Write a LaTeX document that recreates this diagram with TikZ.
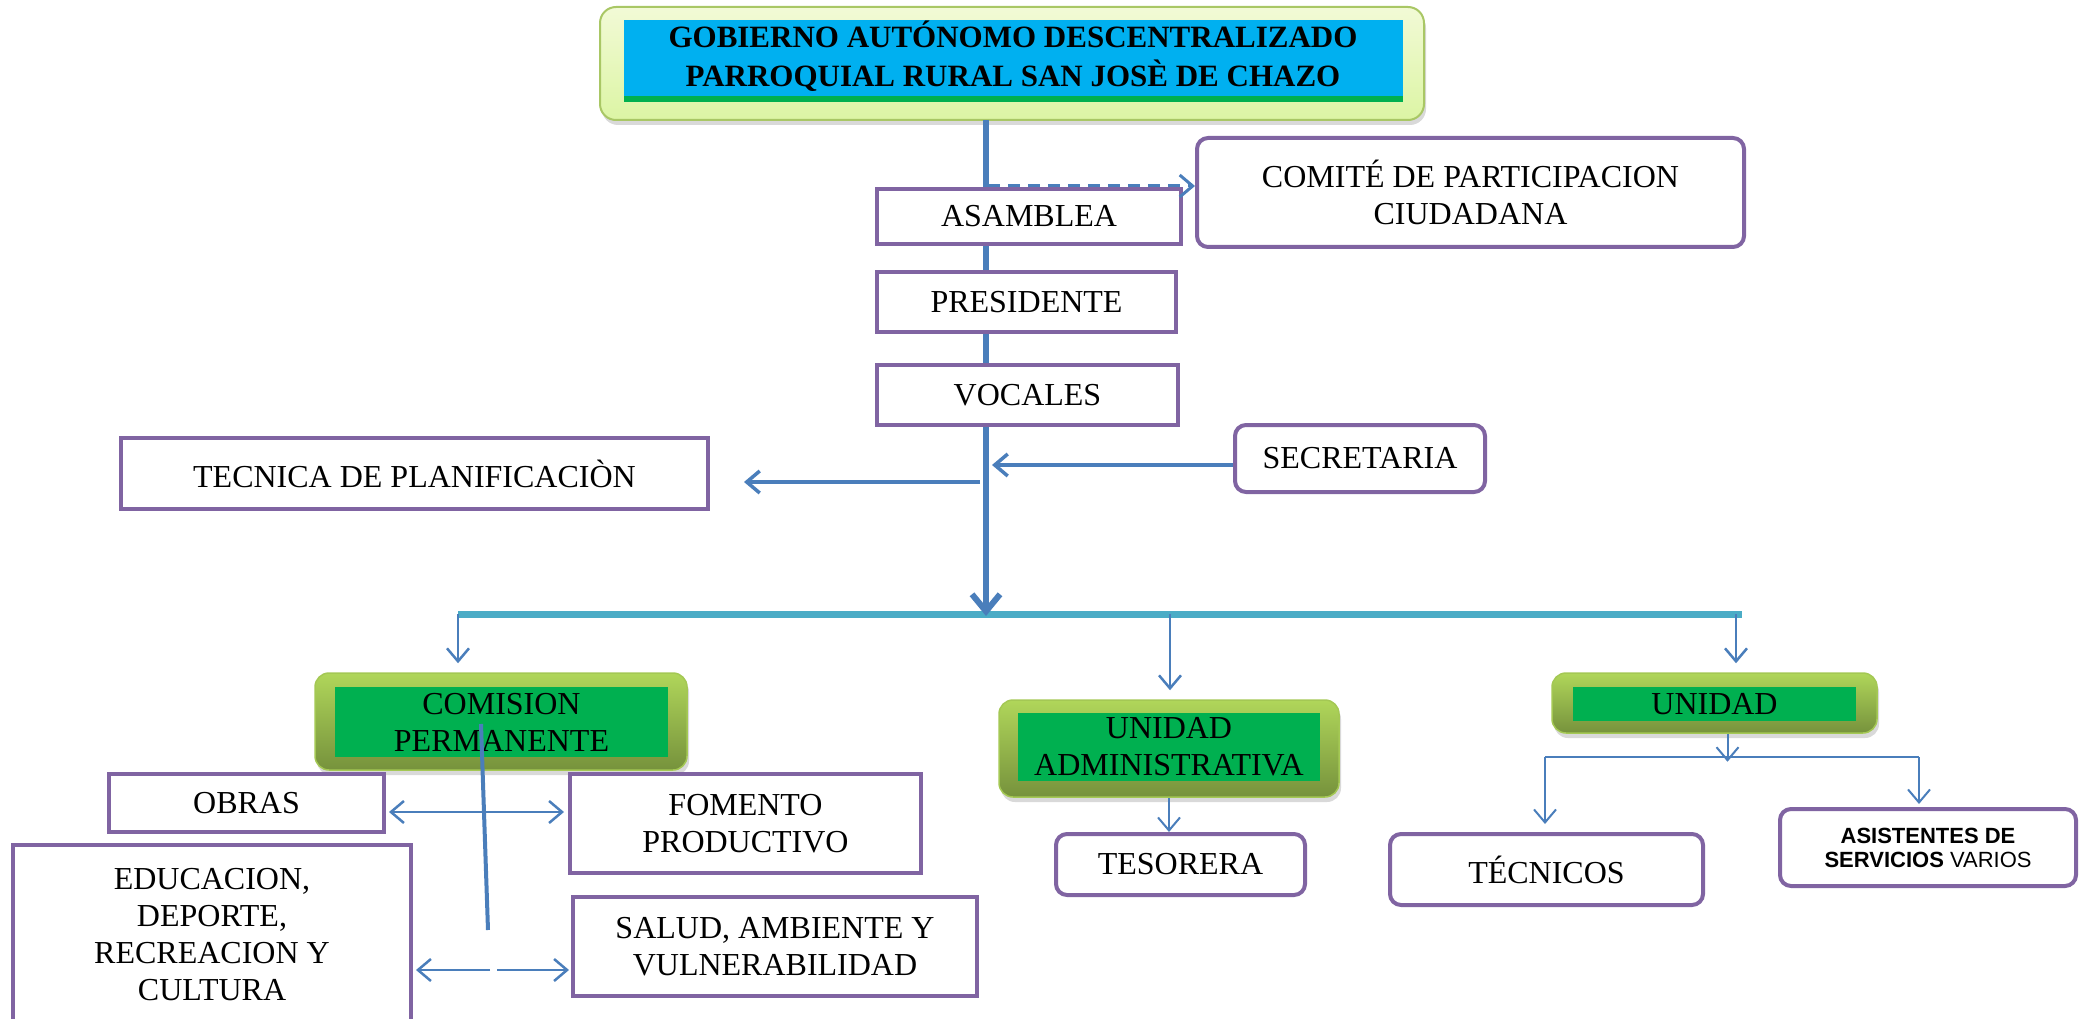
\documentclass[tikz,border=0pt]{standalone}
\usepackage{fontspec}
\setmainfont{Liberation Serif}
\newfontfamily\arialfont{Liberation Sans}
\usetikzlibrary{arrows.meta,shadows}

\definecolor{lineblue}{HTML}{4A7EBB}
\definecolor{barblue}{HTML}{4BACC6}
\definecolor{boxpurple}{HTML}{8064A2}
\definecolor{unitgreen}{HTML}{00B050}
\definecolor{olivelight}{HTML}{B0D65A}
\definecolor{olivedark}{HTML}{76923C}
\definecolor{titleblue}{HTML}{00B0F0}
\definecolor{titlepale}{HTML}{F2FAD6}
\definecolor{titlelime}{HTML}{DCF5A4}
\definecolor{titleedge}{HTML}{A9C765}

\begin{document}
\begin{tikzpicture}[x=1pt, y=-1pt, >={Straight Barb[length=13pt,width=22pt]},
  box/.style = {draw=boxpurple, line width=4, fill=white, align=center, inner sep=0, font=\fontsize{32}{37}\selectfont},
  roundbox/.style = {box, rounded corners=11},
  unitouter/.style = {rounded corners=14, top color=olivelight, bottom color=olivedark, draw=olivelight!80!olivedark, line width=1.5, drop shadow={shadow xshift=2pt, shadow yshift=-5pt, opacity=0.3}},
  unitinner/.style = {fill=unitgreen, align=center, inner sep=0, font=\fontsize{32}{37}\selectfont},
  link/.style = {draw=lineblue, line width=2.5}]
\useasboundingbox (0,0) rectangle (2083,1019);

% title
\node[rounded corners=16, top color=titlepale, bottom color=titlelime, draw=titleedge, line width=2, minimum width=824, minimum height=113, drop shadow={shadow xshift=2pt, shadow yshift=-5pt, opacity=0.3}] (gadbox) at (1012,63.5) {};
\fill[titleblue] (624,20) rectangle (1403,96);
\fill[unitgreen] (624,96) rectangle (1403,102);
\node[align=center, font=\bfseries\fontsize{31}{39}\selectfont] (gad) at (1013,56) {GOBIERNO AUTÓNOMO DESCENTRALIZADO\\PARROQUIAL RURAL SAN JOSÈ DE CHAZO};

\coordinate (t0) at (986,120);
\coordinate (t1) at (986,616);
\coordinate (c1) at (458,614);
\coordinate (c2) at (1170,614);
\coordinate (c3) at (1736,614);
\coordinate (c4) at (1742,614);
\coordinate (d0) at (988,186);

% bar and trunk
\draw[barblue, line width=7] (c1) -- (c4);
\draw[lineblue, line width=6, -{Straight Barb[length=17pt,width=28pt]}] (t0) -- (t1);

\node[box, minimum width=304, minimum height=55] (asamblea) at (1029,216.5) {ASAMBLEA};
\node[box, minimum width=299, minimum height=60] (presidente) at (1026.5,302) {PRESIDENTE};
\node[box, minimum width=301, minimum height=60] (vocales) at (1027.5,395) {VOCALES};
\node[roundbox, minimum width=547, minimum height=109] (comite) at (1470.5,192.5) {COMITÉ DE PARTICIPACION\\CIUDADANA};
\node[roundbox, minimum width=250, minimum height=67] (secretaria) at (1360,458.5) {SECRETARIA};
\node[box, minimum width=587, minimum height=71] (planificacion) at (414.5,473.5) {TECNICA DE PLANIFICACIÒN};

\draw[link, line width=3, dash pattern=on 12pt off 8pt, ->] (d0) -- (d0 -| comite.west);

\coordinate (s0) at (992,465);
\coordinate (p0) at (980,482);
\coordinate (p1) at (744,482);
\draw[link, line width=3.5, ->] (secretaria.west |- s0) -- (s0);
\draw[link, line width=3.5, ->] (p0) -- (p1);

% units
\node[unitouter, minimum width=372, minimum height=97] (comisionbg) at (501,721.5) {};
\node[unitinner, minimum width=333, minimum height=70] (comision) at (501.5,722) {COMISION\\PERMANENTE};
\node[unitouter, minimum width=340, minimum height=97] (unidadadmbg) at (1169,748.5) {};
\node[unitinner, minimum width=302, minimum height=68] (unidadadm) at (1169,747) {UNIDAD\\ADMINISTRATIVA};
\node[unitouter, minimum width=325, minimum height=60] (unidadbg) at (1714.5,703) {};
\node[unitinner, minimum width=283, minimum height=34] (unidad) at (1714.5,704) {UNIDAD};

\draw[link, ->, shorten >=9pt] (c1) -- (c1 |- comisionbg.north);
\draw[link, ->, shorten >=9pt] (c2) -- (c2 |- unidadadmbg.north);
\draw[link, ->, shorten >=9pt] (c3) -- (c3 |- unidadbg.north);

% commissions
\node[box, minimum width=275, minimum height=58] (obras) at (246.5,803) {OBRAS};
\node[box, minimum width=351, minimum height=99] (fomento) at (745.5,823.5) {FOMENTO\\PRODUCTIVO};
\node[box, minimum width=398, minimum height=179] (educacion) at (212,934.5) {EDUCACION,\\DEPORTE,\\RECREACION Y\\CULTURA};
\node[box, minimum width=404, minimum height=99] (salud) at (775,946.5) {SALUD, AMBIENTE Y\\VULNERABILIDAD};

\coordinate (v0) at (481,724);
\coordinate (v1) at (488,930);
\coordinate (m1) at (485,812);
\coordinate (k1) at (490,970);
\coordinate (k2) at (497,970);
\draw[lineblue, line width=4] (v0) -- (v1);
\draw[link, <->, shorten <=3pt, shorten >=4pt] (obras.east |- m1) -- (fomento.west |- m1);
\draw[link, ->, shorten >=3pt] (k1) -- (educacion.east |- k1);
\draw[link, ->, shorten >=2pt] (k2) -- (salud.west |- k2);

% administration
\node[roundbox, minimum width=249, minimum height=61] (tesorera) at (1180.5,864.5) {TESORERA};
\draw[link, line width=2, ->] (unidadadm.south |- unidadadmbg.south) -- (unidadadm.south |- tesorera.north);

\node[roundbox, minimum width=313, minimum height=71] (tecnicos) at (1546.5,869.5) {TÉCNICOS};
\node[roundbox, minimum width=296, minimum height=77, font=\arialfont\fontsize{22}{24}\selectfont] (asistentes) at (1928,847.5) {\textbf{ASISTENTES DE}\\\textbf{SERVICIOS} VARIOS};

\coordinate (b1) at (1545,757);
\coordinate (b2) at (1919,757);
\draw[link, line width=2, ->] ([xshift=13pt]unidadbg.south) -- ++(0,28);
\draw[link, line width=2] (b1) -- (b2);
\draw[link, line width=2, ->, shorten >=8pt] (b1) -- (b1 |- tecnicos.north);
\draw[link, line width=2, ->, shorten >=3pt] (b2) -- (b2 |- asistentes.north);
\end{tikzpicture}
\end{document}
